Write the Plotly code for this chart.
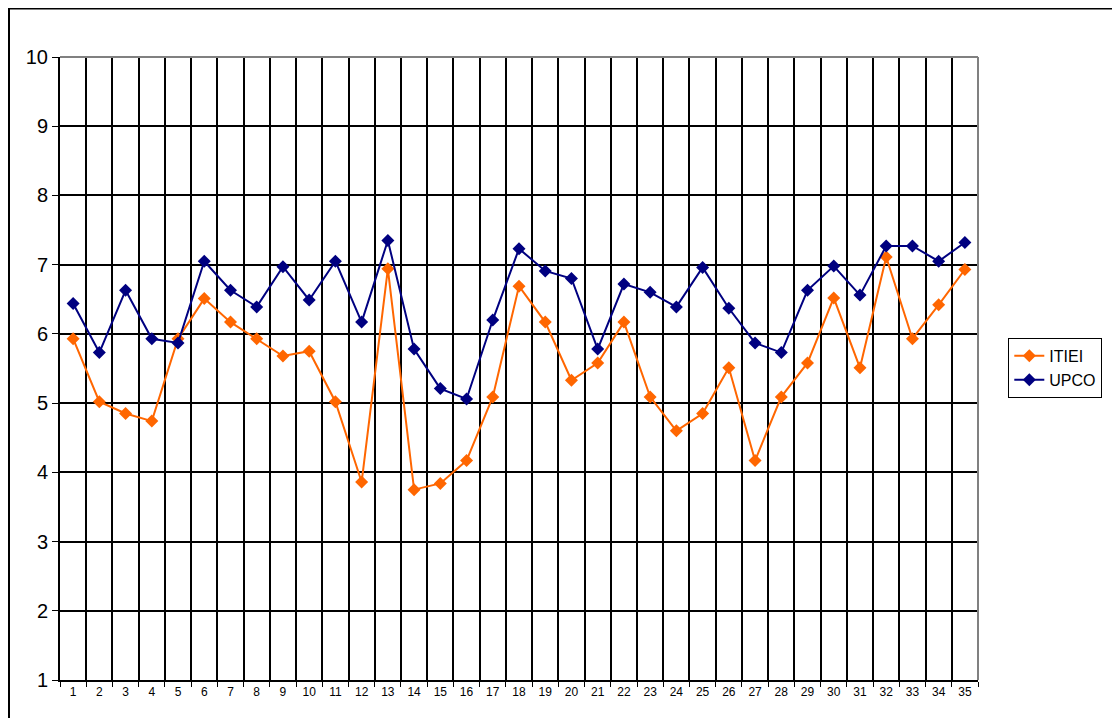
import plotly.graph_objects as go

# datos
sesiones = list(range(1, 36))
itiei = [5.93, 5.02, 4.85, 4.74, 5.93, 6.51, 6.17, 5.93, 5.68, 5.75,
         5.02, 3.86, 6.94, 3.75, 3.84, 4.17, 5.09, 6.69, 6.17, 5.33,
         5.58, 6.17, 5.09, 4.60, 4.85, 5.51, 4.17, 5.09, 5.58, 6.52,
         5.51, 7.11, 5.93, 6.42, 6.93]
upco = [6.44, 5.73, 6.63, 5.93, 5.87, 7.05, 6.63, 6.39, 6.97, 6.49,
        7.05, 6.17, 7.35, 5.78, 5.21, 5.06, 6.20, 7.23, 6.91, 6.80,
        5.78, 6.72, 6.60, 6.39, 6.96, 6.37, 5.87, 5.73, 6.63, 6.98,
        6.56, 7.27, 7.27, 7.05, 7.32]

fig = go.Figure()
fig.add_trace(go.Scatter(x=sesiones, y=itiei, mode='lines+markers', name='ITIEI',
                         line=dict(color='#FF6600', width=2),
                         marker=dict(symbol='diamond', size=10, color='#FF6600')))
fig.add_trace(go.Scatter(x=sesiones, y=upco, mode='lines+markers', name='UPCO',
                         line=dict(color='#000080', width=2),
                         marker=dict(symbol='diamond', size=10, color='#000080')))

# la pagina tiene 8px de margen, se compensa
fig.update_layout(
    width=1112, height=710,
    margin=dict(l=52, r=142, t=49, b=38),
    plot_bgcolor='white', paper_bgcolor='white',
    font=dict(family='Liberation Sans, Arial', color='black'),
    showlegend=True,
    legend=dict(x=1.033, y=0.549, xanchor='left', yanchor='top',
                bordercolor='black', borderwidth=1, bgcolor='white',
                font=dict(size=16)),
    xaxis=dict(range=[0.5, 35.5], tickmode='array', tickvals=sesiones,
               showgrid=False, ticks='', zeroline=False,
               tickfont=dict(size=12),
               showline=True, linecolor='black', linewidth=2,
               minor=dict(tick0=0.5, dtick=1, ticks='outside', ticklen=5,
                          tickcolor='black', tickwidth=1,
                          showgrid=True, gridcolor='black', gridwidth=2)),
    yaxis=dict(range=[1, 10], dtick=1, tick0=1,
               showgrid=True, gridcolor='black', gridwidth=2,
               zeroline=False, ticks='outside', ticklen=6, tickcolor='black',
               tickfont=dict(size=20),
               showline=True, linecolor='black', linewidth=2),
)

# bordes grises arriba y a la derecha del area de trazado
fig.add_shape(type='line', xref='paper', yref='paper', x0=0, x1=1, y0=1, y1=1,
              line=dict(color='#808080', width=2))
fig.add_shape(type='line', xref='paper', yref='paper', x0=1, x1=1, y0=0, y1=1,
              line=dict(color='#808080', width=2))
# marco exterior del grafico
fig.add_shape(type='rect', xref='paper', yref='paper',
              x0=(1 - 52) / 918, x1=(1130 - 52) / 918,
              y0=-(730 - 672) / 623, y1=1 + (49 - 0.5) / 623,
              line=dict(color='black', width=2))

fig.write_html("out.html")
